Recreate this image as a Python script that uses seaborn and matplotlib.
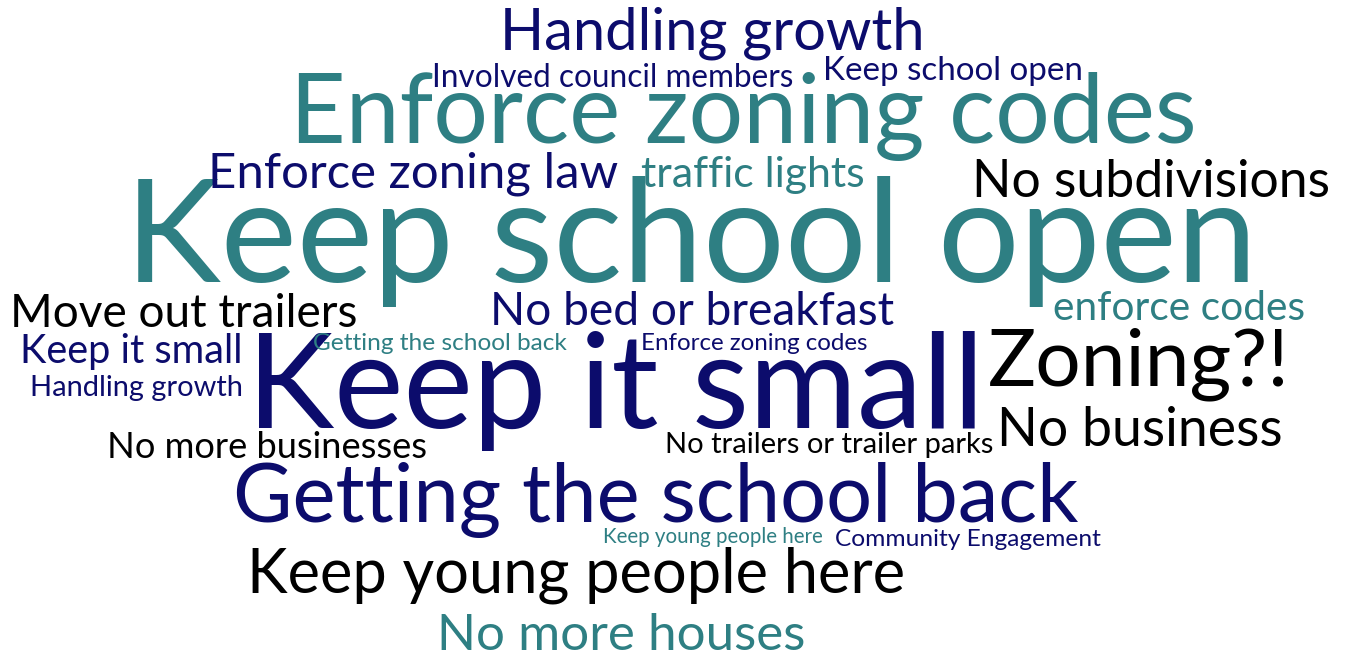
import matplotlib
matplotlib.use("Agg")
import seaborn as sns
from matplotlib import pyplot as plt

# words of the cloud and their colour group
words = ["Keep school open", "Keep it small", "Enforce zoning codes", "Getting the school back",
         "Handling growth", "Keep young people here", "No bed or breakfast", "Enforce zoning law",
         "No subdivisions", "No more houses", "Move out trailers", "Zoning?!", "No business",
         "No more businesses", "enforce codes", "traffic lights", "Involved council members",
         "Keep school open", "No trailers or trailer parks", "Community Engagement", "Keep it small",
         "Getting the school back", "Enforce zoning codes", "Handling growth", "Keep young people here"]
groups = ["teal", "navy", "teal", "navy",
          "navy", "black", "navy", "navy",
          "black", "teal", "black", "black", "black",
          "black", "teal", "teal", "navy",
          "navy", "black", "navy", "navy",
          "teal", "navy", "navy", "teal"]

# layout: left edge, baseline and width in pixels
lefts = [125, 247, 290, 233,
         500, 247, 490, 208,
         972, 437, 10, 988, 997,
         107, 1053, 641, 432,
         823, 665, 835, 20,
         313, 641, 30, 603]
baselines = [282, 428, 143, 522,
             50, 592, 325, 187,
             197, 650, 327, 385, 446,
             458, 320, 187, 87,
             80, 453, 546, 363,
             350, 350, 396, 543]
widths = [1133, 738, 907, 845,
          425, 658, 405, 410,
          358, 368, 348, 302, 286,
          320, 252, 224, 361,
          260, 328, 265, 223,
          253, 227, 213, 220]

palette = {"teal": "#2e7f83", "navy": "#0c0c6c", "black": "#000000"}

sns.set_style("white")
plt.rcParams["font.family"] = ["Lato", "DejaVu Sans"]

fig = plt.figure(figsize=(13.46, 6.57), dpi=100)
ax = fig.add_axes([0, 0, 1, 1])
ax.set_xlim(0, 1346)
ax.set_ylim(657, 0)
ax.axis("off")

renderer = fig.canvas.get_renderer()
for word, grp, x, y, w in zip(words, groups, lefts, baselines, widths):
    t = ax.text(x, y, word, fontsize=100, color=palette[grp], ha="left", va="baseline")
    measured = t.get_window_extent(renderer).width
    t.set_fontsize(100 * w / measured)

fig.savefig("out.png", dpi=100, facecolor="white")
